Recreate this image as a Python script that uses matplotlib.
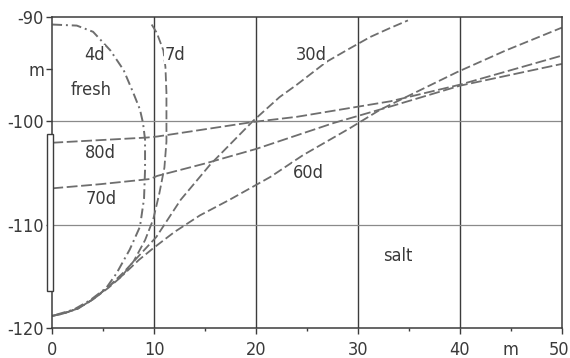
import numpy as np
import matplotlib
matplotlib.use("Agg")
import matplotlib.pyplot as plt
import matplotlib.ticker as ticker
from matplotlib.patches import Rectangle
from matplotlib.transforms import ScaledTranslation

plt.rcParams['font.family'] = ['DejaVu Sans']
plt.rcParams['font.stretch'] = 'condensed'

# interface positions (distance from well in m, depth in m)
x_4d = [0, 2.4, 4.0, 5.7, 7.0, 7.95, 8.6, 8.9, 9.1, 9.1, 9.0, 8.6, 7.6, 6.3, 5.3, 3.7, 2.1, 0]
y_4d = [-90.7, -90.8, -91.4, -93.2, -95.1, -97.3, -98.9, -100.2, -101.8, -104.7, -107.5,
        -110.2, -112.4, -114.7, -116.1, -117.3, -118.2, -118.8]

x_7d = [9.75, 10.25, 10.9, 11.1, 11.2, 11.2, 11.2, 11.0, 10.5, 9.9, 9.1, 8.0, 6.8, 5.5, 4.0, 2.5, 1.0, 0]
y_7d = [-90.7, -91.5, -93.2, -94.8, -97.3, -100.2, -102.0, -104.5, -107.0, -109.5, -111.5,
        -113.5, -115.0, -116.1, -117.2, -118.1, -118.6, -118.8]

x_30d = [0, 1, 2.5, 4, 5.5, 7, 8.5, 10.2, 12.6, 15.5, 19.7, 22.3, 24, 26.9, 29.2, 31.2, 33, 34.9]
y_30d = [-118.8, -118.6, -118.1, -117.2, -116.0, -114.6, -113.0, -111.2, -107.6, -104.2,
         -100.0, -97.7, -96.5, -94.3, -93.0, -91.9, -91.1, -90.3]

x_60d = [0, 1, 2.5, 4, 5.5, 7, 8.5, 10, 12, 14.5, 17.4, 21.4, 24.6, 29.2, 32.2, 39.7, 44.5, 50]
y_60d = [-118.8, -118.6, -118.1, -117.2, -116.0, -114.8, -113.4, -112.2, -110.7, -109.1,
         -107.6, -105.4, -103.3, -100.7, -98.9, -95.3, -93.2, -91.0]

x_70d = [0, 4.7, 9.6, 10.3, 15, 20, 27.6, 33.2, 40, 50]
y_70d = [-106.5, -106.1, -105.6, -105.3, -104.1, -102.7, -100.2, -98.6, -96.6, -94.5]

x_80d = [0, 9.3, 10.3, 19.7, 24, 33.2, 40, 50]
y_80d = [-102.1, -101.6, -101.5, -100.1, -99.6, -98.1, -96.5, -93.7]

labels = ['4d', '7d', '30d', '60d', '70d', '80d', 'fresh', 'salt']
label_x = [4.1, 12.0, 25.4, 25.1, 4.8, 4.7, 3.85, 33.9]
label_y = [-93.6, -93.6, -93.6, -105.0, -107.5, -103.1, -97.0, -113.0]

# well screen
screen_x = [-0.5, 0.1]
screen_y = [-116.4, -101.3]

line_col = '#6e6e6e'
frame_col = '#3c3c3c'
fs = 13

fig = plt.figure(figsize=(5.7, 3.58), dpi=100)
ax = fig.add_axes([0.0918, 0.083, 0.8938, 0.8687])

for v in [10, 20, 30, 40]:
    ax.axvline(v, color=frame_col, lw=1.0, zorder=1)
for h in [-100, -110]:
    ax.axhline(h, color='#8a8a8a', lw=0.9, zorder=1)

dash = (0, (5, 2))
ax.plot(x_4d, y_4d, color=line_col, lw=1.4, ls=(0, (5, 2, 1, 2)))
ax.plot(x_7d, y_7d, color=line_col, lw=1.3, ls=dash)
ax.plot(x_30d, y_30d, color=line_col, lw=1.3, ls=dash)
ax.plot(x_60d, y_60d, color=line_col, lw=1.3, ls=dash)
ax.plot(x_70d, y_70d, color=line_col, lw=1.3, ls=(0, (6, 2)))
ax.plot(x_80d, y_80d, color=line_col, lw=1.3, ls=(0, (6, 2)))

ax.add_patch(Rectangle((screen_x[0], screen_y[0]), screen_x[1] - screen_x[0],
                       screen_y[1] - screen_y[0], facecolor='white',
                       edgecolor=frame_col, lw=1.0, clip_on=False, zorder=5))

for t, tx, ty in zip(labels, label_x, label_y):
    ax.text(tx, ty, t, ha='center', va='center', fontsize=fs, color='#3a3a3a',
            bbox=dict(facecolor='white', edgecolor='none', pad=0.5))

ax.set_xlim(0, 50)
ax.set_ylim(-120, -90)

ax.xaxis.set_major_locator(ticker.FixedLocator([0, 10, 20, 30, 40, 50]))
ax.xaxis.set_major_formatter(ticker.FixedFormatter(['0', '10', '20', '30', '40', '50']))
ax.xaxis.set_minor_locator(ticker.FixedLocator([5, 15, 25, 35, 45]))
ax.xaxis.set_minor_formatter(ticker.FixedFormatter(['', '', '', '', 'm']))

ax.yaxis.set_major_locator(ticker.FixedLocator([-120, -110, -100, -90]))
ax.yaxis.set_major_formatter(ticker.FixedFormatter(['-120', '-110', '-100', '-90']))
ax.yaxis.set_minor_locator(ticker.FixedLocator([-95]))
ax.yaxis.set_minor_formatter(ticker.FixedFormatter(['m']))

ax.tick_params(axis='both', which='both', labelsize=fs, colors=frame_col,
               labelcolor='#3a3a3a', width=1.0)
ax.tick_params(axis='x', which='major', length=4, pad=5)
ax.tick_params(axis='x', which='minor', length=2, pad=7)
ax.tick_params(axis='y', which='both', length=4, pad=2)

# pull the last x label in a little so it stays inside the figure
last = ax.xaxis.get_major_ticks()[-1].label1
last.set_transform(last.get_transform() + ScaledTranslation(-3 / 100, 0, fig.dpi_scale_trans))

for s in ax.spines.values():
    s.set_color(frame_col)
    s.set_linewidth(1.1)

fig.savefig('out.png', dpi=100)
